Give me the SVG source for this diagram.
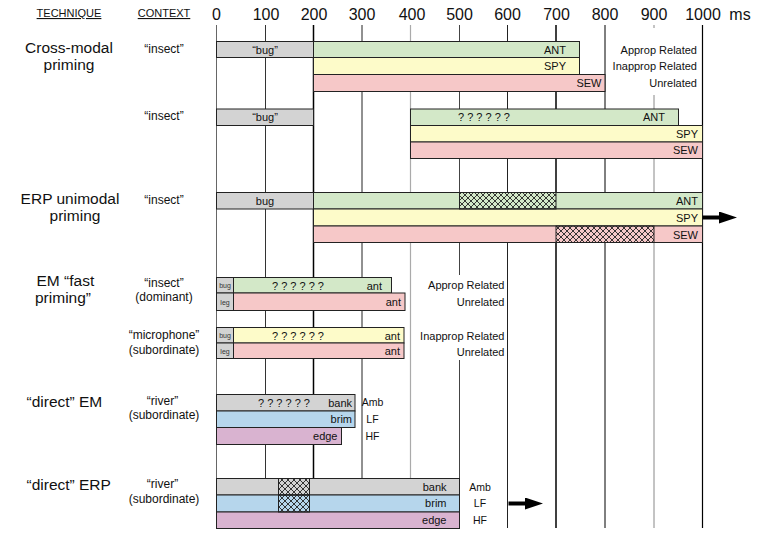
<svg xmlns="http://www.w3.org/2000/svg" width="780" height="540" viewBox="0 0 780 540">
<defs>
<style>
text{font-family:"Liberation Sans",Arial,sans-serif;fill:#111}
.hd{font-size:11px;text-anchor:middle;text-decoration:underline}
.tk{font-size:16px;text-anchor:middle}
.tech{font-size:15.5px}
.tm{text-anchor:middle}
.ctx{font-size:12px;text-anchor:middle}
.bt{font-size:11px}
.e{text-anchor:end}
.m{text-anchor:middle}
.sm{font-size:7px;text-anchor:middle;fill:#333}
.lab{font-size:11px;text-anchor:end}
.al{font-size:10.5px;text-anchor:middle}
rect.bar{stroke:#222;stroke-width:1}
.g{fill:#d3d3d3}
.gr{fill:#d3e8c8}
.y{fill:#fdfbc9}
.p{fill:#f6c8c8}
.b{fill:#b6d6ec}
.mv{fill:#d9b3d0}
rect.h{fill:url(#hatch);stroke:#222;stroke-width:1}
.cov{fill:#fff}
.arr{stroke:#000;stroke-width:4;fill:none}
</style>
<pattern id="hatch" patternUnits="userSpaceOnUse" width="6" height="6"><path d="M0,0L6,6M6,0L0,6" stroke="#222" stroke-width="0.9"/></pattern>
<marker id="ah" viewBox="0 0 18 12" refX="0" refY="6" markerWidth="18" markerHeight="12" markerUnits="userSpaceOnUse" orient="auto"><path d="M0,0L18,6L0,12z" fill="#000"/></marker>
</defs>
<rect width="780" height="540" fill="#fff"/>

<g id="header">
<text class="hd" x="69" y="17">TECHNIQUE</text>
<text class="hd" x="164" y="17">CONTEXT</text>
<text class="tk" x="216.5" y="20">0</text>
<text class="tk" x="266" y="20">100</text>
<text class="tk" x="314" y="20">200</text>
<text class="tk" x="362" y="20">300</text>
<text class="tk" x="412" y="20">400</text>
<text class="tk" x="459.5" y="20">500</text>
<text class="tk" x="507.5" y="20">600</text>
<text class="tk" x="556.5" y="20">700</text>
<text class="tk" x="605" y="20">800</text>
<text class="tk" x="654" y="20">900</text>
<text class="tk" x="703" y="20">1000</text>
<text class="tk" x="740" y="20">ms</text>
</g>

<g id="grid" fill="none">
<line x1="216.5" y1="25" x2="216.5" y2="528" stroke="#666"/>
<line x1="265.5" y1="25" x2="265.5" y2="528" stroke="#333"/>
<line x1="313.5" y1="25" x2="313.5" y2="528" stroke="#000" stroke-width="1.5"/>
<line x1="362" y1="25" x2="362" y2="528" stroke="#222"/>
<line x1="410.5" y1="25" x2="410.5" y2="528" stroke="#aaa" stroke-width="1.2"/>
<line x1="459.5" y1="25" x2="459.5" y2="528" stroke="#444"/>
<line x1="507.5" y1="25" x2="507.5" y2="528" stroke="#222"/>
<line x1="556" y1="25" x2="556" y2="528" stroke="#000" stroke-width="1.5"/>
<line x1="605" y1="25" x2="605" y2="528" stroke="#000"/>
<line x1="654" y1="25" x2="654" y2="528" stroke="#888"/>
<line x1="702.5" y1="25" x2="702.5" y2="528" stroke="#000" stroke-width="1.2"/>
<rect class="cov" x="607" y="28" width="92" height="67"/>
<rect class="cov" x="413" y="275" width="93" height="85"/>
</g>

<g id="cross-modal-1">
<text class="tech tm" x="69" y="53">Cross-modal</text>
<text class="tech tm" x="69" y="70">priming</text>
<text class="ctx" x="164" y="53">“insect”</text>
<rect class="bar g" x="216.5" y="41.5" width="97" height="16"/>
<rect class="bar gr" x="313.5" y="41.5" width="266" height="16"/>
<rect class="bar y" x="313.5" y="57.5" width="266" height="17"/>
<rect class="bar p" x="313.5" y="74.5" width="291.5" height="17"/>
<text class="bt m" x="265" y="53.5">“bug”</text>
<text class="bt e" x="566" y="53.5">ANT</text>
<text class="bt e" x="566" y="70">SPY</text>
<text class="bt e" x="601.5" y="87">SEW</text>
<text class="lab" x="697" y="53.5">Approp Related</text>
<text class="lab" x="697" y="70">Inapprop Related</text>
<text class="lab" x="697" y="87">Unrelated</text>
</g>

<g id="cross-modal-2">
<text class="ctx" x="164" y="120">“insect”</text>
<rect class="bar g" x="216.5" y="109" width="97" height="16.5"/>
<rect class="bar gr" x="410.5" y="109" width="268" height="16.5"/>
<rect class="bar y" x="410.5" y="125.5" width="292" height="16.5"/>
<rect class="bar p" x="410.5" y="142" width="292" height="16.5"/>
<text class="bt m" x="265" y="121">“bug”</text>
<text class="bt" x="458" y="121">? ? ? ? ? ?</text>
<text class="bt e" x="665" y="121">ANT</text>
<text class="bt e" x="698" y="137.5">SPY</text>
<text class="bt e" x="698" y="154">SEW</text>
</g>

<g id="erp-unimodal">
<text class="tech tm" x="70" y="204">ERP unimodal</text>
<text class="tech tm" x="75" y="221">priming</text>
<text class="ctx" x="164" y="203.5">“insect”</text>
<rect class="bar g" x="216.5" y="192.5" width="97" height="16.5"/>
<rect class="bar gr" x="313.5" y="192.5" width="389" height="16.5"/>
<rect class="bar y" x="313.5" y="209" width="389" height="17"/>
<rect class="bar p" x="313.5" y="226" width="389" height="16.5"/>
<rect class="h" x="459.5" y="192.5" width="96.5" height="16.5"/>
<rect class="h" x="556" y="226" width="98" height="16.5"/>
<text class="bt m" x="265" y="205">bug</text>
<text class="bt e" x="698" y="205">ANT</text>
<text class="bt e" x="698" y="221.5">SPY</text>
<text class="bt e" x="698" y="238.5">SEW</text>
</g>

<g id="em-fast-dominant">
<text class="tech" x="36.5" y="285.5" font-size="15">EM “fast</text>
<text class="tech" x="35" y="302.5" font-size="15">priming”</text>
<text class="ctx" x="164" y="286.5">“insect”</text>
<text class="ctx" x="164" y="300.5">(dominant)</text>
<rect class="bar gr" x="216.5" y="277.5" width="175" height="15.5"/>
<rect class="bar p" x="216.5" y="293" width="188.5" height="17.5"/>
<rect class="bar g" x="216.5" y="277.5" width="17" height="15.5"/>
<rect class="bar g" x="216.5" y="293" width="17" height="17.5"/>
<text class="sm" x="225" y="288">bug</text>
<text class="sm" x="225" y="304.5">leg</text>
<text class="bt" x="272" y="289.5">? ? ? ? ? ?</text>
<text class="bt e" x="382" y="289.5">ant</text>
<text class="bt e" x="401" y="306">ant</text>
<text class="lab" x="504.5" y="289">Approp Related</text>
<text class="lab" x="504.5" y="306">Unrelated</text>
</g>

<g id="em-fast-subordinate">
<text class="ctx" x="164" y="339">“microphone”</text>
<text class="ctx" x="164" y="353.5">(subordinate)</text>
<rect class="bar y" x="216.5" y="327.5" width="187.5" height="15.5"/>
<rect class="bar p" x="216.5" y="343" width="187.5" height="15.5"/>
<rect class="bar g" x="216.5" y="327.5" width="17" height="15.5"/>
<rect class="bar g" x="216.5" y="343" width="17" height="15.5"/>
<text class="sm" x="225" y="338">bug</text>
<text class="sm" x="225" y="353.5">leg</text>
<text class="bt" x="272" y="339.5">? ? ? ? ? ?</text>
<text class="bt e" x="400" y="339.5">ant</text>
<text class="bt e" x="400" y="355">ant</text>
<text class="lab" x="504.5" y="339.5">Inapprop Related</text>
<text class="lab" x="504.5" y="356">Unrelated</text>
</g>

<g id="direct-em">
<text class="tech" x="26.5" y="406.5">“direct” EM</text>
<text class="ctx" x="162.5" y="404.5">“river”</text>
<text class="ctx" x="164" y="418.5">(subordinate)</text>
<rect class="bar g" x="216.5" y="394.5" width="138.5" height="16.5"/>
<rect class="bar b" x="216.5" y="411" width="138.5" height="16.5"/>
<rect class="bar mv" x="216.5" y="427.5" width="125" height="17"/>
<text class="bt" x="258" y="406.5">? ? ? ? ? ?</text>
<text class="bt e" x="352" y="406.5">bank</text>
<text class="bt e" x="352" y="423">brim</text>
<text class="bt e" x="337.5" y="440">edge</text>
<text class="al" x="372.5" y="405.5">Amb</text>
<text class="al" x="372.5" y="422.5">LF</text>
<text class="al" x="372.5" y="439.5">HF</text>
</g>

<g id="direct-erp">
<text class="tech" x="26.5" y="490">“direct” ERP</text>
<text class="ctx" x="162.5" y="488">“river”</text>
<text class="ctx" x="164" y="502.5">(subordinate)</text>
<rect class="bar g" x="216.5" y="478.5" width="243" height="16.5"/>
<rect class="bar b" x="216.5" y="495" width="243" height="17"/>
<rect class="bar mv" x="216.5" y="512" width="243" height="16.5"/>
<rect class="h" x="278.5" y="478.5" width="31" height="16.5"/>
<rect class="h" x="278.5" y="495" width="31" height="17"/>
<text class="bt e" x="446.5" y="490.5">bank</text>
<text class="bt e" x="446.5" y="507">brim</text>
<text class="bt e" x="446.5" y="524">edge</text>
<text class="al" x="480" y="490.5">Amb</text>
<text class="al" x="480" y="507">LF</text>
<text class="al" x="480" y="524">HF</text>
</g>

<g id="connectors">
<line class="arr" x1="702.5" y1="217.5" x2="719" y2="217.5" marker-end="url(#ah)"/>
<line class="arr" x1="508.5" y1="503.5" x2="525" y2="503.5" marker-end="url(#ah)"/>
</g>
</svg>
